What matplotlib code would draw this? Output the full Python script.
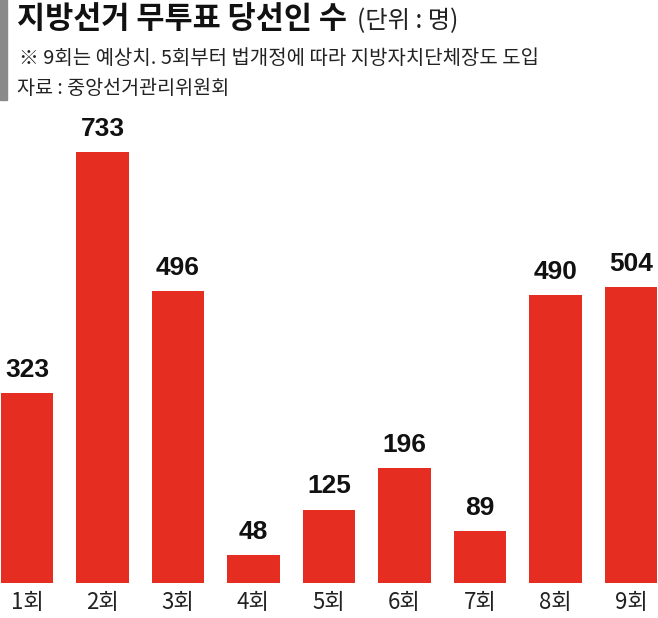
import matplotlib
matplotlib.use("Agg")
import matplotlib.pyplot as plt
from matplotlib.patches import Rectangle

categories = ["1회", "2회", "3회", "4회", "5회", "6회", "7회", "8회", "9회"]
values = [323, 733, 496, 48, 125, 196, 89, 490, 504]

title = "지방선거 무투표 당선인 수"
unit = "(단위 : 명)"
note = "※ 9회는 예상치. 5회부터 법개정에 따라 지방자치단체장도 도입"
source = "자료 : 중앙선거관리위원회"

KR = ["Noto Sans CJK KR", "DejaVu Sans"]
NUM = ["Liberation Sans Narrow", "Liberation Sans", "DejaVu Sans"]
RED = "#e52d22"

W, H = 658, 618
fig = plt.figure(figsize=(W / 100, H / 100), dpi=100)
fig.patch.set_facecolor("white")

# axes: baseline at y=583px, top at y=120px
base_px, top_px = 583, 120
ax = fig.add_axes([0, (H - base_px) / H, 1, (base_px - top_px) / H])
scale = 431 / 733  # px per unit
ax.set_ylim(0, (base_px - top_px) / scale)
spacing = 75.5
ax.set_xlim(-27 / spacing, 8 + 27 / spacing)
ax.axis("off")

x = list(range(len(categories)))
ax.bar(x, values, width=0.70, color=RED, edgecolor="none")
for xi, v in zip(x, values):
    ax.annotate(str(v), (xi, v), xytext=(0, 8), textcoords="offset points",
                ha="center", va="bottom", fontsize=19, fontweight="bold",
                family=NUM, color="#111111")
for xi, c in zip(x, categories):
    ax.annotate(c, (xi, 0), xytext=(0, -6), textcoords="offset points",
                ha="center", va="top", fontsize=16, family=KR, color="#222222")

# header
fig.patches.append(Rectangle((0, 1 - 100 / H), 7 / W, 100 / H,
                             transform=fig.transFigure, color="#8a8a8a"))
t = fig.text(17 / W, 1 - 19 / H, title, fontsize=22, fontweight=900,
             family=KR, color="#111111", va="center", ha="left")
fig.canvas.draw()
bb = t.get_window_extent()
fig.text((bb.x1 + 10) / W, 1 - 21 / H, unit, fontsize=17.5, family=KR,
         color="#222222", va="center", ha="left")
fig.text(19 / W, 1 - 59 / H, note, fontsize=14.35, family=KR,
         color="#222222", va="center", ha="left")
fig.text(17 / W, 1 - 89 / H, source, fontsize=14.1, family=KR,
         color="#222222", va="center", ha="left")

fig.savefig("out.png", dpi=100, facecolor="white")
